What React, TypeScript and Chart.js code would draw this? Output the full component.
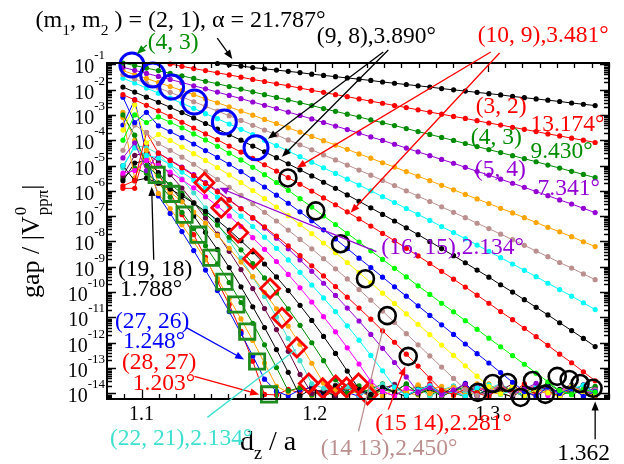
import React, { useEffect, useRef } from "react";
import { Chart, registerables } from "chart.js";

Chart.register(...registerables);

const SERIF = '"Liberation Serif", "Times New Roman", serif';

// axis ranges (y range in log10 units)
const X_MIN = 1.08;
const X_MAX = 1.37;
const LOG_MIN = -14.2;
const LOG_MAX = -0.95;

const xTickValues = [1.1, 1.2, 1.3];
const yDecades = [-1, -2, -3, -4, -5, -6, -7, -8, -9, -10, -11, -12, -13, -14];

// interlayer distance d_z / a
const dz = [
  1.0892, 1.0960, 1.1028, 1.1097, 1.1165, 1.1233, 1.1301, 1.1369, 1.1438, 1.1506,
  1.1574, 1.1642, 1.1710, 1.1779, 1.1847, 1.1915, 1.1983, 1.2051, 1.2120, 1.2188,
  1.2256, 1.2324, 1.2392, 1.2461, 1.2529, 1.2597, 1.2665, 1.2733, 1.2802, 1.2870,
  1.2938, 1.3006, 1.3074, 1.3143, 1.3211, 1.3279, 1.3347, 1.3415, 1.3484, 1.3552,
  1.3620,
];

// log10(gap / |V0_pp_pi|) for each commensurate pair (m1, m2)
const g2_1 = [
  null, null, null, null, null, null, null, null, -0.97, -1.02,
  -1.07, -1.13, -1.18, -1.23, -1.28, -1.33, -1.39, -1.44, -1.49, -1.54,
  -1.59, -1.64, -1.70, -1.75, -1.80, -1.85, -1.90, -1.96, -2.01, -2.06,
  -2.11, -2.16, -2.21, -2.27, -2.32, -2.37, -2.42, -2.47, -2.53, -2.58,
  -2.63,
];
const g3_2 = [
  null, null, null, null, -0.99, -1.08, -1.17, -1.25, -1.34, -1.42,
  -1.51, -1.60, -1.68, -1.77, -1.85, -1.94, -2.03, -2.11, -2.20, -2.28,
  -2.37, -2.46, -2.54, -2.63, -2.71, -2.80, -2.89, -2.97, -3.06, -3.14,
  -3.23, -3.32, -3.40, -3.49, -3.57, -3.66, -3.75, -3.83, -3.92, -4.00,
  -4.09,
];
const g4_3 = [
  -0.95, -1.05, -1.15, -1.25, -1.36, -1.46, -1.56, -1.67, -1.77, -1.88,
  -1.98, -2.09, -2.20, -2.31, -2.41, -2.52, -2.63, -2.75, -2.86, -2.97,
  -3.08, -3.20, -3.31, -3.42, -3.54, -3.66, -3.77, -3.89, -4.01, -4.13,
  -4.25, -4.37, -4.49, -4.61, -4.73, -4.85, -4.98, -5.10, -5.23, -5.35,
  -5.48,
];
const g5_4 = [
  -1.12, -1.24, -1.36, -1.48, -1.60, -1.72, -1.85, -1.97, -2.10, -2.23,
  -2.36, -2.49, -2.62, -2.75, -2.89, -3.02, -3.16, -3.30, -3.44, -3.58,
  -3.72, -3.87, -4.01, -4.16, -4.31, -4.46, -4.61, -4.76, -4.91, -5.07,
  -5.23, -5.38, -5.54, -5.70, -5.86, -6.03, -6.19, -6.36, -6.52, -6.69,
  -6.86,
];
const g6_5 = [
  -1.25, -1.41, -1.56, -1.72, -1.88, -2.04, -2.20, -2.36, -2.52, -2.68,
  -2.85, -3.01, -3.18, -3.34, -3.51, -3.68, -3.85, -4.02, -4.19, -4.36,
  -4.54, -4.71, -4.89, -5.06, -5.24, -5.42, -5.60, -5.78, -5.96, -6.14,
  -6.32, -6.50, -6.69, -6.87, -7.06, -7.25, -7.44, -7.62, -7.81, -8.01,
  -8.20,
];
const g7_6 = [
  -1.40, -1.58, -1.75, -1.93, -2.11, -2.29, -2.48, -2.66, -2.85, -3.03,
  -3.22, -3.41, -3.60, -3.79, -3.99, -4.18, -4.38, -4.58, -4.78, -4.98,
  -5.18, -5.38, -5.59, -5.79, -6.00, -6.21, -6.42, -6.63, -6.85, -7.06,
  -7.28, -7.49, -7.71, -7.93, -8.15, -8.38, -8.60, -8.83, -9.05, -9.28,
  -9.51,
];
const g8_7 = [
  -1.55, -1.74, -1.94, -2.14, -2.34, -2.54, -2.74, -2.95, -3.15, -3.36,
  -3.57, -3.78, -4.00, -4.21, -4.43, -4.65, -4.87, -5.09, -5.31, -5.54,
  -5.77, -6.00, -6.23, -6.46, -6.70, -6.93, -7.17, -7.41, -7.65, -7.89,
  -8.14, -8.39, -8.64, -8.89, -9.14, -9.39, -9.65, -9.90, -10.16, -10.42,
  -10.69,
];
const g9_8 = [
  -1.90, -2.10, -2.30, -2.50, -2.70, -2.91, -3.12, -3.34, -3.56, -3.78,
  -4.00, -4.23, -4.46, -4.69, -4.93, -5.17, -5.41, -5.66, -5.90, -6.16,
  -6.41, -6.67, -6.93, -7.19, -7.46, -7.73, -8.00, -8.28, -8.56, -8.84,
  -9.13, -9.41, -9.71, -10.00, -10.30, -10.60, -10.90, -11.21, -11.52, -11.83,
  -12.15,
];
const g10_9 = [
  -2.20, -2.41, -2.62, -2.84, -3.06, -3.29, -3.52, -3.75, -3.98, -4.23,
  -4.47, -4.72, -4.97, -5.22, -5.48, -5.74, -6.01, -6.28, -6.55, -6.83,
  -7.11, -7.39, -7.68, -7.97, -8.27, -8.57, -8.87, -9.18, -9.49, -9.80,
  -10.12, -10.44, -10.77, -11.09, -11.43, -11.76, -12.10, -12.45, -12.79, -13.15,
  -13.50,
];
const g11_10 = [
  -4.00, -3.00, -3.30, -3.08, -3.29, -3.51, -3.75, -3.99, -4.24, -4.51,
  -4.78, -5.07, -5.36, -5.67, -5.98, -6.31, -6.64, -6.99, -7.33, -7.68,
  -8.02, -8.37, -8.71, -9.06, -9.40, -9.75, -10.09, -10.44, -10.78, -11.13,
  -11.47, -11.82, -12.16, -12.51, -12.85, -13.20, -13.54, -13.89, -14.05, -13.85,
  -13.95,
];
const g12_11 = [
  -2.30, -3.30, -2.90, -3.43, -3.66, -3.90, -4.15, -4.41, -4.68, -4.95,
  -5.24, -5.54, -5.85, -6.17, -6.49, -6.83, -7.18, -7.54, -7.90, -8.28,
  -8.66, -9.03, -9.41, -9.79, -10.16, -10.54, -10.92, -11.29, -11.67, -12.05,
  -12.43, -12.80, -13.18, -13.56, -13.93, -14.10, -13.75, -14.00, -13.80, -14.12,
  -13.92,
];
const g13_12 = [
  -3.60, -2.60, -4.10, -3.77, -4.01, -4.27, -4.53, -4.80, -5.08, -5.37,
  -5.67, -5.99, -6.31, -6.64, -6.98, -7.33, -7.69, -8.06, -8.44, -8.83,
  -9.23, -9.63, -10.04, -10.45, -10.86, -11.27, -11.68, -12.09, -12.50, -12.91,
  -13.32, -13.73, -14.02, -13.70, -14.08, -13.86, -13.98, -14.14, -13.72, -13.96,
  -14.06,
];
const g14_13 = [
  -4.40, -3.40, -3.70, -4.13, -4.40, -4.67, -4.95, -5.24, -5.55, -5.86,
  -6.18, -6.51, -6.85, -7.19, -7.55, -7.92, -8.29, -8.68, -9.08, -9.48,
  -9.90, -10.32, -10.75, -11.20, -11.64, -12.08, -12.52, -12.96, -13.41, -13.85,
  -14.08, -13.90, -13.66, -14.04, -13.92, -14.15, -13.80, -13.98, -13.74, -14.10,
  -13.88,
];
const g15_14 = [
  -5.80, -5.60, -3.70, -4.51, -4.80, -5.09, -5.40, -5.71, -6.04, -6.37,
  -6.71, -7.06, -7.42, -7.79, -8.17, -8.56, -8.96, -9.36, -9.78, -10.20,
  -10.63, -11.07, -11.53, -11.98, -12.45, -12.92, -13.40, -13.87, -14.06, -13.82,
  -13.98, -14.14, -13.70, -13.96, -13.62, -14.04, -13.90, -14.12, -13.78, -13.94,
  -14.08,
];
const g16_15 = [
  -4.70, -4.10, -5.20, -4.51, -4.78, -5.06, -5.36, -5.67, -6.00, -6.34,
  -6.70, -7.08, -7.47, -7.87, -8.29, -8.73, -9.18, -9.65, -10.13, -10.63,
  -11.14, -11.67, -12.22, -12.78, -13.35, -13.94, -13.78, -14.02, -13.88, -13.64,
  -14.10, -13.92, -13.76, -14.06, -13.84, -13.60, -13.96, -14.12, -13.72, -13.90,
  -14.02,
];
const g17_16 = [
  -5.00, -4.30, -4.60, -4.70, -4.97, -5.26, -5.57, -5.90, -6.25, -6.62,
  -7.00, -7.41, -7.83, -8.27, -8.73, -9.22, -9.72, -10.23, -10.77, -11.33,
  -11.90, -12.50, -13.11, -13.75, -14.08, -13.86, -13.70, -14.00, -13.94, -14.12,
  -13.78, -13.66, -14.04, -13.88, -14.10, -13.74, -13.92, -14.06, -13.82, -13.68,
  -13.98,
];
const g18_17 = [
  -5.30, -5.20, -4.80, -4.99, -5.26, -5.56, -5.88, -6.23, -6.60, -6.99,
  -7.41, -7.85, -8.31, -8.79, -9.30, -9.83, -10.39, -10.97, -11.57, -12.20,
  -12.84, -13.52, -13.92, -14.10, -13.80, -13.98, -13.68, -14.06, -13.86, -14.14,
  -13.74, -13.96, -13.62, -14.02, -13.84, -13.72, -14.08, -13.90, -13.70, -14.04,
  -13.86,
];
const g19_18 = [
  -5.00, -5.60, -5.50, -5.70, -5.93, -6.19, -6.49, -6.81, -7.16, -7.55,
  -7.97, -8.41, -8.89, -9.40, -9.94, -10.52, -11.12, -11.75, -12.42, -13.12,
  -13.84, -14.04, -13.76, -13.96, -14.12, -13.84, -13.70, -14.00, -13.90, -13.64,
  -14.08, -13.82, -13.98, -14.14, -13.76, -13.88, -13.66, -14.02, -13.80, -13.94,
  -14.10,
];
const g20_19 = [
  -3.00, -3.80, -5.00, -5.41, -5.74, -6.10, -6.48, -6.90, -7.35, -7.83,
  -8.33, -8.87, -9.44, -10.03, -10.66, -11.31, -12.00, -12.71, -13.46, -13.98,
  -13.70, -14.08, -13.86, -13.94, -13.62, -14.02, -13.80, -14.12, -13.90, -13.74,
  -13.96, -14.06, -13.68, -13.88, -14.10, -13.78, -13.60, -13.92, -14.04, -13.84,
  -13.72,
];
const g21_20 = [
  -3.10, -5.50, -4.40, -5.71, -6.05, -6.43, -6.84, -7.28, -7.76, -8.27,
  -8.81, -9.39, -10.01, -10.66, -11.34, -12.06, -12.81, -13.59, -13.86, -14.06,
  -13.90, -13.72, -14.12, -13.84, -13.96, -13.66, -14.00, -13.88, -13.76, -14.08,
  -13.94, -13.62, -13.98, -14.14, -13.82, -13.70, -14.02, -13.90, -13.78, -14.06,
  -13.92,
];
const g22_21 = [
  -5.10, -4.20, -4.30, -4.53, -5.01, -5.53, -6.08, -6.67, -7.30, -7.96,
  -8.66, -9.40, -10.17, -10.98, -11.83, -12.71, -13.62, -13.80, -13.96, -13.74,
  -14.08, -13.88, -13.64, -14.02, -13.92, -13.78, -14.12, -13.86, -13.70, -13.98,
  -14.04, -13.82, -13.60, -13.94, -14.10, -13.76, -13.90, -14.00, -13.68, -13.86,
  -14.06,
];
const g23_22 = [
  -5.40, -4.60, -4.50, -4.86, -5.36, -5.89, -6.46, -7.07, -7.71, -8.39,
  -9.11, -9.86, -10.65, -11.48, -12.34, -13.25, -14.00, -13.84, -14.10, -13.72,
  -13.94, -14.04, -13.80, -13.66, -14.08, -13.90, -13.76, -14.14, -13.86, -13.98,
  -13.70, -14.02, -13.88, -13.62, -14.06, -13.92, -13.74, -14.10, -13.84, -13.96,
  -13.78,
];
const g24_23 = [
  -5.60, -4.90, -4.80, -5.28, -5.82, -6.39, -6.99, -7.64, -8.32, -9.03,
  -9.79, -10.58, -11.40, -12.27, -13.17, -14.10, -13.82, -13.96, -13.70, -14.04,
  -13.88, -14.12, -13.76, -13.92, -13.64, -14.00, -13.86, -14.08, -13.72, -13.94,
  -13.80, -14.06, -13.68, -13.90, -14.14, -13.78, -13.98, -13.84, -13.66, -14.02,
  -13.88,
];
const g25_24 = [
  -5.50, -5.10, -5.30, -5.68, -6.25, -6.85, -7.49, -8.17, -8.88, -9.62,
  -10.41, -11.23, -12.08, -12.98, -13.90, -13.78, -14.06, -13.90, -14.12, -13.74,
  -13.96, -13.84, -13.62, -14.02, -13.92, -13.70, -14.08, -13.86, -13.98, -14.14,
  -13.76, -13.88, -13.64, -14.04, -13.94, -13.72, -13.82, -14.10, -13.90, -13.68,
  -14.00,
];
const g26_25 = [
  -2.90, -4.00, -5.00, -6.10, -6.70, -7.34, -8.01, -8.72, -9.47, -10.25,
  -11.06, -11.91, -12.80, -13.72, -13.96, -13.74, -14.08, -13.88, -13.70, -14.02,
  -13.92, -14.14, -13.80, -13.66, -13.98, -14.06, -13.84, -13.72, -14.10, -13.90,
  -13.62, -13.94, -14.04, -13.86, -13.76, -14.12, -13.82, -13.96, -13.70, -14.00,
  -13.88,
];
const g27_26 = [
  -3.40, -2.40, -4.60, -6.20, -6.89, -7.61, -8.36, -9.13, -9.94, -10.77,
  -11.63, -12.52, -13.44, -13.92, -14.10, -13.86, -13.76, -14.04, -13.68, -13.96,
  -14.12, -13.82, -13.94, -13.64, -14.06, -13.88, -13.74, -14.00, -13.90, -13.60,
  -14.08, -13.84, -13.98, -13.72, -14.14, -13.86, -13.78, -14.02, -13.92, -13.66,
  -13.96,
];
const g28_27 = [
  -5.90, -5.90, -4.20, -5.37, -6.07, -6.94, -7.73, -8.63, -9.58, -10.49,
  -11.55, -12.73, -14.04, -14.06, -13.84, -13.98, -13.70, -14.12, -13.90, -13.78,
  -14.04, -13.66, -13.94, -14.10, -13.82, -13.96, -13.62, -14.00, -13.88, -14.14,
  -13.76, -13.92, -13.68, -14.06, -13.86, -13.98, -13.74, -14.08, -13.80, -13.94,
  -14.02,
];

// highlighted points
const blueCircleX = [1.0944, 1.1064, 1.1173, 1.1305, 1.1478, 1.1661];
const blueCircleLog = [-1.03, -1.42, -1.90, -2.49, -3.28, -4.30];
const blackCircleX = [
  1.1845, 1.2006, 1.2149, 1.2293, 1.2419, 1.2540, 1.2942, 1.3028,
  1.3114, 1.3189, 1.3258, 1.3332, 1.3401, 1.3470, 1.3533, 1.3608,
];
const blackCircleLog = [
  -5.49, -6.79, -8.09, -9.47, -10.93, -12.54, -13.96, -13.61,
  -13.57, -14.16, -13.49, -14.04, -13.33, -13.45, -13.61, -13.80,
];
const diamondX = [
  1.1363, 1.1460, 1.1558, 1.1644, 1.1742, 1.1811, 1.1897,
  1.1966, 1.2046, 1.2121, 1.2184, 1.2253, 1.2305,
];
const diamondLog = [
  -5.68, -6.67, -7.65, -8.68, -9.86, -11.01, -12.19,
  -13.61, -13.80, -13.69, -13.77, -13.61, -14.04,
];
const squareX = [1.1087, 1.1173, 1.1248, 1.1328, 1.1403, 1.1478, 1.1547, 1.1610, 1.1667, 1.1736];
const squareLog = [-5.37, -6.12, -6.94, -7.73, -8.64, -9.59, -10.49, -11.56, -12.74, -14.04];

const BLACK = "#000000";
const RED = "#ff0000";
const GREEN = "#008b00";
const LIME = "#00ff00";
const BLUE = "#0000ff";
const YELLOW = "#ffff00";
const BROWN = "#bc8f8f";
const VIOLET = "#9400d3";
const CYAN = "#00ffff";
const MAGENTA = "#ff00ff";
const ORANGE = "#ffa500";
const TURQUOISE = "#40e0d0";
const MAROON = "#670748";
const SQUARE_GREEN = "#1e8c1e";

const series = [
  { label: "(2, 1)", color: BLACK, values: g2_1 },
  { label: "(3, 2)", color: RED, values: g3_2 },
  { label: "(4, 3)", color: GREEN, values: g4_3 },
  { label: "(5, 4)", color: VIOLET, values: g5_4 },
  { label: "(6, 5)", color: ORANGE, values: g6_5 },
  { label: "(7, 6)", color: BROWN, values: g7_6 },
  { label: "(8, 7)", color: CYAN, values: g8_7 },
  { label: "(9, 8)", color: BLACK, values: g9_8 },
  { label: "(10, 9)", color: RED, values: g10_9 },
  { label: "(11, 10)", color: LIME, values: g11_10 },
  { label: "(12, 11)", color: BLUE, values: g12_11 },
  { label: "(13, 12)", color: YELLOW, values: g13_12 },
  { label: "(14, 13)", color: BROWN, values: g14_13 },
  { label: "(15, 14)", color: RED, values: g15_14 },
  { label: "(16, 15)", color: VIOLET, values: g16_15 },
  { label: "(17, 16)", color: CYAN, values: g17_16 },
  { label: "(18, 17)", color: MAGENTA, values: g18_17 },
  { label: "(19, 18)", color: BLACK, values: g19_18 },
  { label: "(20, 19)", color: GREEN, values: g20_19 },
  { label: "(21, 20)", color: ORANGE, values: g21_20 },
  { label: "(22, 21)", color: TURQUOISE, values: g22_21 },
  { label: "(23, 22)", color: MAROON, values: g23_22 },
  { label: "(24, 23)", color: BLACK, values: g24_23 },
  { label: "(25, 24)", color: GREEN, values: g25_24 },
  { label: "(26, 25)", color: ORANGE, values: g26_25 },
  { label: "(27, 26)", color: BLUE, values: g27_26 },
  { label: "(28, 27)", color: RED, values: g28_27 },
];

// text annotations: anchor (d_z, log10 gap), left aligned on the baseline
// parts: [text, 0 normal | 1 subscript]
const notes = [
  { x: 1.0387, v: 0.47, color: BLACK, size: 24, parts: [["(m", 0], ["1", 1], [", m", 0], ["2", 1], [" ) = (2, 1), \u03b1 = 21.787\u00b0", 0]] },
  { x: 1.1035, v: -0.398, color: GREEN, parts: [["(4, 3)", 0]] },
  { x: 1.2012, v: -0.161, color: BLACK, parts: [["(9, 8),3.890\u00b0", 0]] },
  { x: 1.2942, v: -0.122, color: RED, parts: [["(10, 9),3.481\u00b0", 0]] },
  { x: 1.293, v: -2.922, color: RED, parts: [["(3, 2)", 0]] },
  { x: 1.3246, v: -3.631, color: RED, parts: [["13.174\u00b0", 0]] },
  { x: 1.2902, v: -4.144, color: GREEN, parts: [["(4, 3)", 0]] },
  { x: 1.3246, v: -4.696, color: GREEN, parts: [["9.430\u00b0", 0]] },
  { x: 1.2925, v: -5.406, color: VIOLET, parts: [["(5, 4)", 0]] },
  { x: 1.3287, v: -6.155, color: VIOLET, parts: [["7.341\u00b0", 0]] },
  { x: 1.2385, v: -8.482, color: VIOLET, parts: [["(16, 15),2.134\u00b0", 0]] },
  { x: 1.0863, v: -9.349, color: BLACK, parts: [["(19, 18)", 0]] },
  { x: 1.0875, v: -10.138, color: BLACK, parts: [["1.788\u00b0", 0]] },
  { x: 1.0846, v: -11.4, color: BLUE, parts: [["(27, 26)", 0]] },
  { x: 1.0892, v: -12.188, color: BLUE, parts: [["1.248\u00b0", 0]] },
  { x: 1.0886, v: -13.056, color: RED, parts: [["(28, 27)", 0]] },
  { x: 1.0949, v: -13.884, color: RED, parts: [["1.203\u00b0", 0]] },
  { x: 1.0817, v: -16.052, color: TURQUOISE, parts: [["(22, 21),2.134\u00b0", 0]] },
  { x: 1.235, v: -15.461, color: RED, parts: [["(15 14),2.281\u00b0", 0]] },
  { x: 1.2035, v: -16.447, color: BROWN, parts: [["(14 13),2.450\u00b0", 0]] },
  { x: 1.3401, v: -16.644, color: BLACK, parts: [["1.362", 0]] },
];

// pointer lines: from (x1, v1) to (x2, v2), optional arrow head at the end
const pointers = [
  { x1: 1.1437, v1: 0.036, x2: 1.1524, v2: -0.792, color: BLACK, head: true },
  { x1: 1.103, v1: -0.24, x2: 1.0972, v2: -0.595, color: GREEN, head: true },
  { x1: 1.2396, v1: -0.516, x2: 1.173, v2: -3.947, color: BLACK, head: true },
  { x1: 1.2425, v1: -0.437, x2: 1.1811, v2: -4.657, color: BLACK, head: true },
  { x1: 1.3017, v1: -0.516, x2: 1.1897, v2: -5.09, color: RED, head: true },
  { x1: 1.3068, v1: -0.556, x2: 1.2207, v2: -6.865, color: RED, head: true },
  { x1: 1.2356, v1: -8.403, x2: 1.1449, v2: -5.879, color: VIOLET, head: true },
  { x1: 1.107, v1: -8.718, x2: 1.1058, v2: -5.84, color: BLACK, head: true },
  { x1: 1.1259, v1: -11.4, x2: 1.1592, v2: -12.661, color: BLUE, head: true },
  { x1: 1.1305, v1: -13.332, x2: 1.1679, v2: -14.041, color: RED, head: true },
  { x1: 1.138, v1: -14.948, x2: 1.1891, v2: -12.267, color: TURQUOISE, head: false },
  { x1: 1.2425, v1: -14.633, x2: 1.2523, v2: -12.937, color: RED, head: true },
  { x1: 1.2253, v1: -15.5, x2: 1.2396, v2: -11.4, color: BROWN, head: false },
  { x1: 1.362, v1: -15.816, x2: 1.362, v2: -14.318, color: BLACK, head: true },
];

function drawRich(ctx, x, y, parts, size, color) {
  let cx = x;
  ctx.fillStyle = color;
  ctx.textAlign = "left";
  ctx.textBaseline = "alphabetic";
  for (const [t, mode] of parts) {
    const s = mode === 0 ? size : size * 0.65;
    const dy = mode === 1 ? size * 0.33 : mode === 2 ? -size * 0.45 : 0;
    ctx.font = `${s}px ${SERIF}`;
    ctx.fillText(t, cx, y + dy);
    cx += ctx.measureText(t).width;
  }
  return cx - x;
}

function drawPointer(ctx, x1, y1, x2, y2, color, head) {
  ctx.strokeStyle = color;
  ctx.fillStyle = color;
  ctx.lineWidth = 1.3;
  const ang = Math.atan2(y2 - y1, x2 - x1);
  const hl = head ? 9 : 0;
  ctx.beginPath();
  ctx.moveTo(x1, y1);
  ctx.lineTo(x2 - Math.cos(ang) * hl * 0.8, y2 - Math.sin(ang) * hl * 0.8);
  ctx.stroke();
  if (head) {
    const hw = 3.6;
    const bx = x2 - Math.cos(ang) * hl;
    const by = y2 - Math.sin(ang) * hl;
    ctx.beginPath();
    ctx.moveTo(x2, y2);
    ctx.lineTo(bx + Math.sin(ang) * hw, by - Math.cos(ang) * hw);
    ctx.lineTo(bx - Math.sin(ang) * hw, by + Math.cos(ang) * hw);
    ctx.closePath();
    ctx.fill();
  }
}

const overlay = {
  id: "overlay",
  afterDraw(chart) {
    const { ctx, chartArea: a } = chart;
    const sx = chart.scales.x;
    const sy = chart.scales.y;
    const X = (x) => sx.getPixelForValue(x);
    const Y = (v) => sy.getPixelForValue(Math.pow(10, v));
    ctx.save();

    // tick marks on all four sides
    ctx.strokeStyle = "#000";
    ctx.lineWidth = 1.3;
    ctx.beginPath();
    for (let d = -15; d <= -1; d++) {
      for (let k = 1; k <= 9; k++) {
        const v = d + Math.log10(k);
        if (v < LOG_MIN || v > LOG_MAX) continue;
        const y = Math.round(Y(v)) + 0.5;
        const len = k === 1 ? 9 : 5;
        ctx.moveTo(a.left, y);
        ctx.lineTo(a.left + len, y);
        ctx.moveTo(a.right, y);
        ctx.lineTo(a.right - len, y);
      }
    }
    for (let k = 108; k <= 137; k++) {
      const x = Math.round(X(k / 100)) + 0.5;
      const len = k % 10 === 0 ? 9 : 5;
      ctx.moveTo(x, a.bottom);
      ctx.lineTo(x, a.bottom - len);
      ctx.moveTo(x, a.top);
      ctx.lineTo(x, a.top + len);
    }
    ctx.stroke();

    // frame
    ctx.lineWidth = 2;
    ctx.strokeRect(a.left, a.top, a.right - a.left, a.bottom - a.top);

    // x tick labels
    ctx.fillStyle = "#000";
    ctx.textBaseline = "alphabetic";
    ctx.textAlign = "center";
    ctx.font = `20px ${SERIF}`;
    for (const t of xTickValues) ctx.fillText(t.toFixed(1), X(t), a.bottom + 21);

    // y tick labels 10^n
    ctx.textAlign = "left";
    for (const d of yDecades) {
      const y = Y(d);
      const sup = String(d);
      ctx.font = `13px ${SERIF}`;
      const ws = ctx.measureText(sup).width;
      ctx.font = `20px ${SERIF}`;
      const wb = ctx.measureText("10").width;
      const right = a.left - 2;
      ctx.fillText("10", right - ws - wb, y + 9);
      ctx.font = `13px ${SERIF}`;
      ctx.fillText(sup, right - ws, y - 5);
    }

    // x axis title: d_z / a
    drawRich(ctx, a.left + 133, a.bottom + 51, [["d", 0], ["z", 1], [" / a", 0]], 28, "#000");

    // y axis title: gap / |V^0_ppπ|
    ctx.save();
    ctx.translate(a.left - 68, a.bottom - 101);
    ctx.rotate(-Math.PI / 2);
    const ys = 26;
    let cx = drawRich(ctx, 0, 0, [["gap / |V", 0]], ys, "#000");
    ctx.font = `${ys * 0.65}px ${SERIF}`;
    ctx.fillText("0", cx + 1, -ys * 0.5);
    ctx.fillText("pp\u03c0", cx + 1, ys * 0.33);
    cx += 1 + ctx.measureText("pp\u03c0").width;
    ctx.font = `${ys}px ${SERIF}`;
    ctx.fillText("|", cx, 0);
    ctx.restore();

    // pointers and notes
    for (const p of pointers) {
      drawPointer(ctx, X(p.x1), Y(p.v1), X(p.x2), Y(p.v2), p.color, p.head);
    }
    for (const n of notes) {
      drawRich(ctx, X(n.x), Y(n.v), n.parts, n.size || 23.5, n.color);
    }
    ctx.restore();
  },
};

function toPoints(values) {
  const pts = [];
  dz.forEach((x, i) => {
    if (values[i] !== null && values[i] !== undefined) pts.push({ x, y: Math.pow(10, values[i]) });
  });
  return pts;
}

function markerSet(xs, logs, style, radius, color, width) {
  return {
    data: xs.map((x, i) => ({ x, y: Math.pow(10, logs[i]) })),
    showLine: false,
    pointStyle: style,
    pointRadius: radius,
    pointBorderColor: color,
    pointBorderWidth: width,
    pointBackgroundColor: "rgba(0,0,0,0)",
    order: 0,
    clip: false,
  };
}

export default function App() {
  const ref = useRef(null);

  useEffect(() => {
    document.body.style.margin = "0";
    const lineSets = series.map((s, i) => ({
      label: s.label,
      data: toPoints(s.values),
      showLine: true,
      borderColor: s.color,
      borderWidth: 1,
      tension: 0,
      pointRadius: 2.6,
      pointBackgroundColor: s.color,
      pointBorderColor: s.color,
      pointBorderWidth: 0,
      order: 1 + i,
      clip: false,
    }));
    const markers = [
      markerSet(blueCircleX, blueCircleLog, "circle", 12, BLUE, 3),
      markerSet(blackCircleX, blackCircleLog, "circle", 8.5, BLACK, 2.6),
      markerSet(diamondX, diamondLog, "rectRot", 9.5, RED, 2.8),
      markerSet(squareX, squareLog, "rect", 10.8, SQUARE_GREEN, 2.8),
    ];
    const chart = new Chart(ref.current, {
      type: "scatter",
      data: { datasets: [...markers, ...lineSets] },
      options: {
        responsive: false,
        animation: false,
        events: [],
        layout: { padding: { left: 107, top: 63, right: 12, bottom: 65 } },
        scales: {
          x: { type: "linear", min: X_MIN, max: X_MAX, display: false },
          y: { type: "logarithmic", min: Math.pow(10, LOG_MIN), max: Math.pow(10, LOG_MAX), display: false },
        },
        plugins: { legend: { display: false }, tooltip: { enabled: false } },
      },
      plugins: [overlay],
    });
    return () => chart.destroy();
  }, []);

  return <canvas ref={ref} width={624} height={464} style={{ display: "block" }} />;
}
